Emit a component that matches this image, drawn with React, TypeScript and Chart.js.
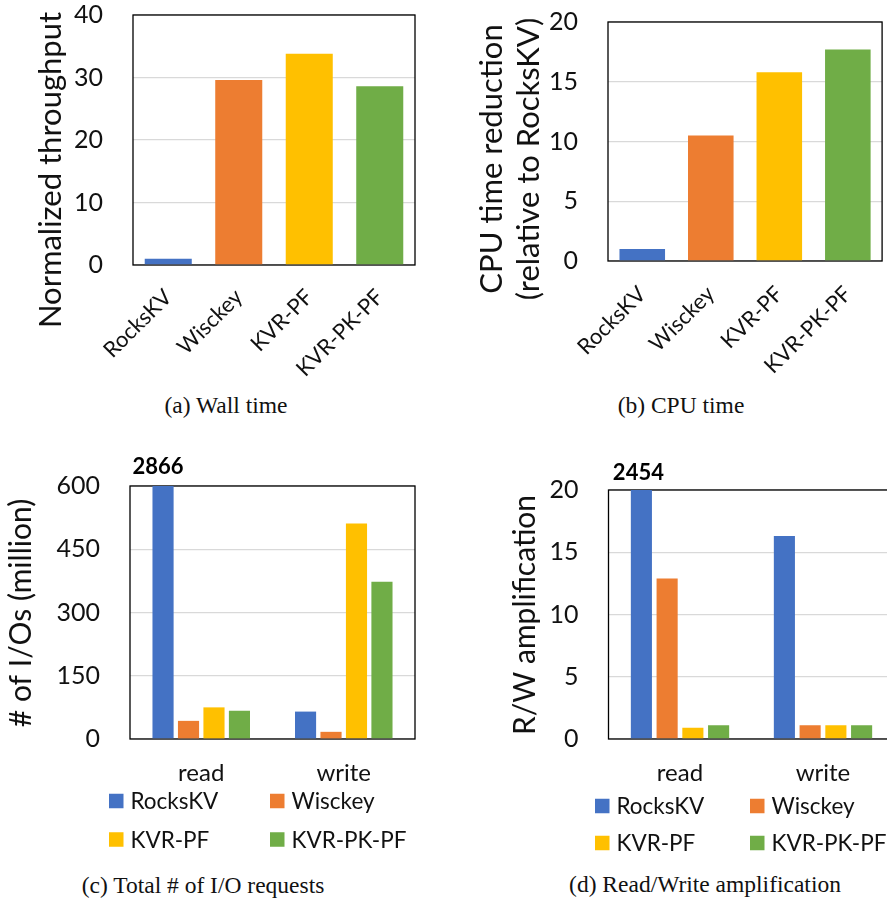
import React, { useEffect, useRef } from 'react';
import { Chart, registerables } from 'chart.js';

Chart.register(...registerables);

// ---------- data ----------
const systems = ['RocksKV', 'Wisckey', 'KVR-PF', 'KVR-PK-PF'];
const systemColors = ['#4472C4', '#ED7D31', '#FFC000', '#70AD47'];

const wallThroughput = [1.0, 29.6, 33.8, 28.6];
const cpuReduction = [1.0, 10.5, 15.8, 17.7];

const ioKinds = ['read', 'write'];
const ioRocksKV = [2866, 65];
const ioWisckey = [43, 17];
const ioKvrPf = [75, 511];
const ioKvrPkPf = [67, 373];

const ampRocksKV = [2454, 16.3];
const ampWisckey = [12.9, 1.1];
const ampKvrPf = [0.9, 1.1];
const ampKvrPkPf = [1.1, 1.1];

const wallAxis = [0, 40, 10]; // min, max, step
const cpuAxis = [0, 20, 5];
const ioAxis = [0, 600, 150];
const ampAxis = [0, 20, 5];

const wallTitle = ['Normalized throughput'];
const cpuTitle = ['CPU time reduction', '(relative to RocksKV)'];
const ioTitle = ['# of I/Os (million)'];
const ampTitle = ['R/W amplification'];

const captions = [
  '(a) Wall time',
  '(b) CPU time',
  '(c) Total # of I/O requests',
  '(d) Read/Write amplification',
];

// ---------- style ----------
const SANS = 'Lato';
const SERIF = 'Liberation Serif';
const TEXT = '#111';

// ---------- plugins ----------
const framePlugin = {
  id: 'frame',
  beforeDatasetsDraw(chart: any) {
    const { ctx, chartArea } = chart;
    ctx.save();
    ctx.strokeStyle = '#000';
    ctx.lineWidth = 1.3;
    ctx.strokeRect(chartArea.left, chartArea.top, chartArea.right - chartArea.left, chartArea.bottom - chartArea.top);
    ctx.restore();
  },
};

const yTitlePlugin = {
  id: 'yTitle',
  afterDraw(chart: any, _args: any, opts: any) {
    if (!opts || !opts.lines) return;
    const { ctx } = chart;
    ctx.save();
    ctx.font = `${opts.size}px ${SANS}`;
    ctx.fillStyle = TEXT;
    ctx.textAlign = 'center';
    ctx.textBaseline = 'middle';
    opts.lines.forEach((line: string, i: number) => {
      ctx.save();
      ctx.translate(opts.xs[i], opts.cy);
      ctx.rotate(-Math.PI / 2);
      ctx.fillText(line, 0, 0);
      ctx.restore();
    });
    ctx.restore();
  },
};

const overLabelPlugin = {
  id: 'overLabel',
  afterDatasetsDraw(chart: any, _args: any, opts: any) {
    if (!opts || !opts.items) return;
    const { ctx, chartArea } = chart;
    ctx.save();
    ctx.font = `bold ${opts.size}px ${SANS}`;
    ctx.fillStyle = '#000';
    ctx.textAlign = 'center';
    ctx.textBaseline = 'middle';
    opts.items.forEach((it: any) => {
      const ds = chart.data.datasets[it.dataset];
      const el = chart.getDatasetMeta(it.dataset).data[it.index];
      const v = ds.data[it.index];
      ctx.fillText(String(v), el.x + opts.dx, chartArea.top + opts.dy);
    });
    ctx.restore();
  },
};

const gridLegendPlugin = {
  id: 'gridLegend',
  afterDraw(chart: any, _args: any, opts: any) {
    if (!opts || !opts.cols) return;
    const { ctx, chartArea } = chart;
    ctx.save();
    ctx.font = `${opts.size}px ${SANS}`;
    ctx.textBaseline = 'middle';
    ctx.textAlign = 'left';
    chart.data.datasets.forEach((ds: any, i: number) => {
      const col = i % 2;
      const row = Math.floor(i / 2);
      const x = chartArea.left + opts.cols[col];
      const y = chartArea.bottom + opts.rows[row];
      ctx.fillStyle = ds.backgroundColor;
      ctx.fillRect(x, y - opts.box / 2, opts.box, opts.box);
      ctx.fillStyle = TEXT;
      ctx.fillText(ds.label, x + opts.box + opts.gap, y + 1);
    });
    ctx.restore();
  },
};

Chart.register(framePlugin, yTitlePlugin, overLabelPlugin, gridLegendPlugin);

// ---------- config builder ----------
function makeOptions(p: any) {
  return {
    responsive: false,
    animation: false,
    events: [],
    layout: { padding: p.padding },
    plugins: {
      legend: { display: false },
      tooltip: { enabled: false },
      yTitle: p.yTitle,
      overLabel: p.overLabel || {},
      gridLegend: p.gridLegend || {},
    },
    scales: {
      x: {
        grid: { display: false, drawTicks: false },
        border: { display: false },
        ticks: {
          color: TEXT,
          font: { family: SANS, size: p.xFont },
          padding: p.xPad,
          autoSkip: false,
          minRotation: p.rot,
          maxRotation: p.rot,
        },
        afterFit: (s: any) => { s.height = p.xHeight; },
      },
      y: {
        min: p.axis[0],
        max: p.axis[1],
        grid: { color: '#d9d9d9', lineWidth: 1.3, drawTicks: true, tickLength: 30, tickColor: 'rgba(0,0,0,0)' },
        border: { display: false },
        ticks: {
          stepSize: p.axis[2],
          color: TEXT,
          font: { family: SANS, size: 25 },
          padding: 0,
        },
        title: { display: false },
        afterFit: (s: any) => { s.width = p.yWidth; },
      },
    },
  };
}

const panels: any[] = [
  {
    box: { left: 0, top: 0, width: 440, height: 390 },
    config: {
      type: 'bar',
      data: {
        labels: systems,
        datasets: [{ label: 'Normalized throughput', data: wallThroughput, backgroundColor: systemColors, categoryPercentage: 1, barPercentage: 0.667 }],
      },
      options: makeOptions({
        padding: { left: 0, top: 15, right: 25, bottom: 0 },
        axis: wallAxis, yWidth: 133, xHeight: 125, xFont: 22, xPad: 19, rot: 45,
        yTitle: { lines: wallTitle, xs: [51], cy: 170, size: 31 },
      }),
    },
  },
  {
    box: { left: 440, top: 0, width: 447, height: 390 },
    config: {
      type: 'bar',
      data: {
        labels: systems,
        datasets: [{ label: 'CPU time reduction', data: cpuReduction, backgroundColor: systemColors, categoryPercentage: 1, barPercentage: 0.665 }],
      },
      options: makeOptions({
        padding: { left: 0, top: 22, right: 4, bottom: 0 },
        axis: cpuAxis, yWidth: 168, xHeight: 129, xFont: 22, xPad: 20, rot: 45,
        yTitle: { lines: cpuTitle, xs: [52, 89], cy: 159, size: 31 },
      }),
    },
  },
  {
    box: { left: 0, top: 440, width: 440, height: 420 },
    config: {
      type: 'bar',
      data: {
        labels: ioKinds,
        datasets: [
          { label: systems[0], data: ioRocksKV, backgroundColor: systemColors[0] },
          { label: systems[1], data: ioWisckey, backgroundColor: systemColors[1] },
          { label: systems[2], data: ioKvrPf, backgroundColor: systemColors[2] },
          { label: systems[3], data: ioKvrPkPf, backgroundColor: systemColors[3] },
        ].map((d) => ({ ...d, categoryPercentage: 0.715, barPercentage: 0.83 })),
      },
      options: makeOptions({
        padding: { left: 0, top: 46, right: 25, bottom: 71 },
        axis: ioAxis, yWidth: 130, xHeight: 50, xFont: 24, xPad: 20, rot: 0,
        yTitle: { lines: ioTitle, xs: [21], cy: 173, size: 30 },
        overLabel: { items: [{ dataset: 0, index: 0 }], size: 22, dx: -5, dy: -19 },
        gridLegend: { cols: [-21, 140], rows: [62, 100.5], box: 14.5, gap: 7, size: 22.5 },
      }),
    },
  },
  {
    box: { left: 440, top: 440, width: 480, height: 420 },
    config: {
      type: 'bar',
      data: {
        labels: ioKinds,
        datasets: [
          { label: systems[0], data: ampRocksKV, backgroundColor: systemColors[0] },
          { label: systems[1], data: ampWisckey, backgroundColor: systemColors[1] },
          { label: systems[2], data: ampKvrPf, backgroundColor: systemColors[2] },
          { label: systems[3], data: ampKvrPkPf, backgroundColor: systemColors[3] },
        ].map((d) => ({ ...d, categoryPercentage: 0.72, barPercentage: 0.82 })),
      },
      options: makeOptions({
        padding: { left: 0, top: 50, right: 25.5, bottom: 71 },
        axis: ampAxis, yWidth: 168.5, xHeight: 50, xFont: 24, xPad: 20, rot: 0,
        yTitle: { lines: ampTitle, xs: [85], cy: 175, size: 30 },
        overLabel: { items: [{ dataset: 0, index: 0 }], size: 22, dx: -3, dy: -17 },
        gridLegend: { cols: [-13.5, 141.5], rows: [67, 104], box: 14.5, gap: 7, size: 22.5 },
      }),
    },
  },
];

const captionBoxes = [
  { cx: 226, cy: 405 },
  { cx: 681, cy: 405 },
  { cx: 203, cy: 885 },
  { cx: 705, cy: 884 },
];

function Panel({ box, config }: any) {
  const ref = useRef<HTMLCanvasElement | null>(null);
  useEffect(() => {
    if (!ref.current) return;
    const chart = new Chart(ref.current, config);
    return () => chart.destroy();
  }, []);
  return (
    <canvas
      ref={ref}
      width={box.width}
      height={box.height}
      style={{ position: 'absolute', left: box.left, top: box.top, width: box.width, height: box.height }}
    />
  );
}

export default function App() {
  return (
    <div style={{ position: 'fixed', left: 0, top: 0, width: 887, height: 901, overflow: 'hidden', background: '#fff' }}>
      {panels.map((p, i) => (
        <Panel key={i} box={p.box} config={p.config} />
      ))}
      {captions.map((c, i) => (
        <div
          key={'c' + i}
          style={{
            position: 'absolute',
            left: captionBoxes[i].cx - 200,
            width: 400,
            top: captionBoxes[i].cy - 14,
            height: 28,
            lineHeight: '28px',
            textAlign: 'center',
            fontFamily: SERIF,
            fontSize: 23.5,
            color: '#111',
            whiteSpace: 'nowrap',
          }}
        >
          {c}
        </div>
      ))}
    </div>
  );
}
